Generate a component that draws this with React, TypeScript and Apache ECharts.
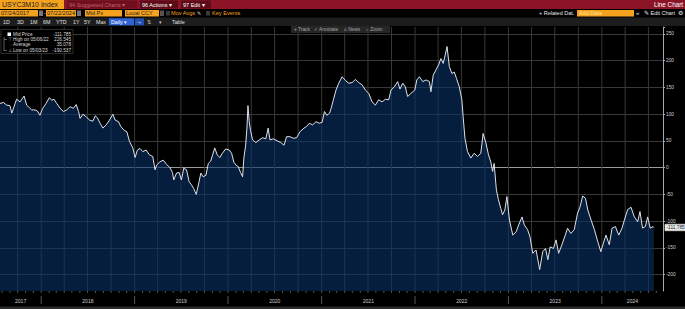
import React, { useEffect, useRef } from "react";
import * as echarts from "echarts";

// ---------- data ----------
const dates: string[] = [
  "2017-07-24","2017-08-06","2017-08-19","2017-09-01","2017-09-08","2017-09-21","2017-09-27","2017-10-10","2017-10-26","2017-11-05","2017-11-16","2017-11-25","2017-12-08","2017-12-17","2017-12-27",
  "2018-01-07","2018-01-20","2018-02-02","2018-02-11","2018-02-20","2018-03-03","2018-03-16","2018-03-29","2018-04-11","2018-04-24","2018-05-07","2018-05-18","2018-05-27","2018-06-02","2018-06-13","2018-06-26","2018-07-09","2018-07-22","2018-07-31","2018-08-09","2018-08-19","2018-08-30","2018-09-12","2018-09-25","2018-10-08","2018-10-17","2018-10-30","2018-11-08","2018-11-21","2018-12-02","2018-12-12","2018-12-25",
  "2019-01-03","2019-01-12","2019-01-22","2019-02-02","2019-02-15","2019-02-28","2019-03-13","2019-03-22","2019-03-28","2019-04-10","2019-04-23","2019-05-06","2019-05-19","2019-05-29","2019-06-03","2019-06-14","2019-06-24","2019-07-03","2019-07-12","2019-07-23","2019-08-02","2019-08-11","2019-08-20","2019-08-30","2019-09-10","2019-09-17","2019-09-26","2019-10-07","2019-10-16","2019-10-25","2019-11-02","2019-11-10","2019-11-20","2019-11-30","2019-12-10","2019-12-23",
  "2020-01-06","2020-01-15","2020-01-24","2020-02-01","2020-02-10","2020-02-19","2020-02-27","2020-03-03","2020-03-10","2020-03-15","2020-03-19","2020-03-24","2020-03-29","2020-04-06","2020-04-19","2020-05-02","2020-05-15","2020-05-28","2020-06-06","2020-06-13","2020-06-26","2020-07-12","2020-07-25","2020-08-07","2020-08-17","2020-08-30","2020-09-12","2020-09-25","2020-10-08","2020-10-24","2020-11-03","2020-11-14","2020-11-27","2020-12-10","2020-12-23",
  "2021-01-03","2021-01-12","2021-01-21","2021-02-01","2021-02-07","2021-02-16","2021-02-26","2021-03-09","2021-03-22","2021-04-04","2021-04-17","2021-04-30","2021-05-13","2021-05-26","2021-06-08","2021-06-21","2021-07-04","2021-07-17","2021-07-30","2021-08-12","2021-08-25","2021-09-07","2021-09-20","2021-09-29","2021-10-12","2021-10-25","2021-11-03","2021-11-14","2021-11-24","2021-12-03","2021-12-16","2021-12-31",
  "2022-01-08","2022-01-18","2022-01-31","2022-02-13","2022-02-26","2022-03-04","2022-03-13","2022-03-24","2022-04-03","2022-04-12","2022-04-21","2022-04-29","2022-05-06","2022-05-15","2022-05-25","2022-06-03","2022-06-12","2022-06-23","2022-07-03","2022-07-08","2022-07-15","2022-07-25","2022-08-07","2022-08-20","2022-09-02","2022-09-15","2022-09-24","2022-10-05","2022-10-15","2022-10-24","2022-10-31","2022-11-06","2022-11-15","2022-11-23","2022-12-02","2022-12-09","2022-12-18","2022-12-26",
  "2023-01-05","2023-01-18","2023-01-31","2023-02-10","2023-02-23","2023-03-04","2023-03-17","2023-03-26","2023-04-06","2023-04-19","2023-05-03","2023-05-15","2023-05-26","2023-06-04","2023-06-13","2023-06-26","2023-07-06","2023-07-16","2023-07-29","2023-08-11","2023-08-20","2023-09-02","2023-09-15","2023-09-28","2023-10-08","2023-10-18","2023-10-29","2023-11-07","2023-11-20","2023-12-03","2023-12-16","2023-12-28",
  "2024-01-07","2024-01-17","2024-01-30","2024-02-10","2024-02-23","2024-03-07","2024-03-20","2024-03-29","2024-04-11","2024-04-24","2024-05-07","2024-05-20","2024-05-29","2024-06-08","2024-06-19","2024-06-28","2024-07-08","2024-07-19","2024-07-22"
];

const values: number[] = [
  120,122,117,116,102,120,128,123,134,117,112,108,108,106,98,
  111,120,131,126,128,120,111,105,108,114,111,118,105,92,100,95,89,87,97,93,83,74,80,89,100,89,86,77,70,67,49,37,
  19,33,36,30,33,24,21,-4,5,11,14,6,0,-9,-23,-10,-9,-23,-1,-4,-26,-32,-39,-50,-26,-10,-17,-14,8,12,24,37,24,19,27,35,
  33,27,10,5,2,-9,-17,18,42,74,116,86,70,52,47,52,56,54,74,52,54,50,47,42,58,58,55,56,67,74,77,83,80,86,83,
  85,105,98,102,111,127,145,158,170,163,158,159,165,159,155,145,139,123,117,127,123,128,127,145,151,161,147,158,151,133,139,145,
  164,170,161,164,161,142,173,183,192,204,195,211,226.545,189,176,179,167,151,127,95,55,30,18,27,21,27,64,46,24,11,-7,8,-42,-60,-76,-88,-79,-54,
  -98,-126,-120,-107,-92,-107,-116,-129,-160,-154,-190.537,-157,-151,-172,-148,-151,-135,-160,-144,-126,-113,-123,-116,-85,-73,-53,-57,-79,-98,-116,-138,-157,
  -141,-126,-144,-113,-110,-126,-113,-98,-78,-74,-92,-101,-82,-113,-110,-92,-113,-110,-111.785
];

const years: number[] = [2017, 2018, 2019, 2020, 2021, 2022, 2023, 2024];
const axisStart = "2017-07-24";
const axisEnd = "2024-08-27";
const yMin = -230.5;
const yMax = 263;
const yStep = 50;

const tickerName = "USYC3M10 Index";
const startDateText = "07/24/2017";
const endDateText = "07/22/2024";
const legendLabels: string[] = ["Mid Price", "High on 05/06/22", "Average", "Low on 05/03/23"];
const legendValues: string[] = ["-111.785", "226.545", "35.078", "-190.537"];
const lastValue = -111.785;
const lastValueText = "-111.785";
const periodButtons: string[] = ["1D", "3D", "1M", "6M", "YTD", "1Y", "5Y", "Max"];

// ---------- helpers ----------
const ts = (s: string) => {
  const [y, m, d] = s.split("-").map(Number);
  return new Date(y, m - 1, d).getTime();
};
const FONT = '"Liberation Sans", Arial, sans-serif';
const GRID_COLOR = "#383838";

const rect = (x: number, y: number, w: number, h: number, fill: string, extra: any = {}) => ({
  type: "rect",
  shape: { x, y, width: w, height: h },
  style: { fill, ...extra },
  silent: true,
  z: 100,
});
const txt = (x: number, y: number, text: string, fill: string, size: number, align = "left", weight = "normal") => ({
  type: "text",
  x,
  y,
  style: {
    text,
    fill,
    font: `${weight} ${size}px ${FONT}`,
    align,
    verticalAlign: "middle",
    textAlign: align,
    textVerticalAlign: "middle",
  },
  silent: true,
  z: 101,
});
const ln = (x1: number, y1: number, x2: number, y2: number, stroke: string, w = 0.6) => ({
  type: "line",
  shape: { x1, y1, x2, y2 },
  style: { stroke, lineWidth: w },
  silent: true,
  z: 101,
});

export default function App() {
  const ref = useRef<HTMLDivElement>(null);

  useEffect(() => {
    if (!ref.current) return;
    const chart = echarts.init(ref.current, null, { renderer: "svg" });

    const tMin = ts(axisStart);
    const tMax = ts(axisEnd);

    const quarterTs: number[] = [];
    const monthTs: number[] = [];
    years.forEach((y) => {
      for (let m = 0; m < 12; m++) {
        const t = new Date(y, m, 1).getTime();
        if (t > tMin && t < tMax) {
          monthTs.push(t);
          if (m % 3 === 0) quarterTs.push(t);
        }
      }
    });
    const yearStarts = years.map((y) => new Date(y, 0, 1).getTime()).filter((t) => t > tMin && t < tMax);
    const yearMids = years.map((y) => {
      const a = Math.max(new Date(y, 0, 1).getTime(), tMin);
      const b = Math.min(new Date(y + 1, 0, 1).getTime(), tMax);
      return (a + b) / 2;
    });

    const lineData = dates.map((d, i) => [ts(d), values[i]]);

    const ORANGE = "#f5a31f";
    const elements: any[] = [
      // row 1 (red title bar)
      rect(0, 0, 685, 9, "#8b1526"),
      rect(0, 0, 64, 9, ORANGE),
      txt(2, 4.7, tickerName, "#1a1a1a", 7),
      rect(67, 0.5, 70, 8, "#6f0e1c"),
      txt(69, 4.7, "94 Suggested Charts \u25BE", "#c4606e", 5.5),
      rect(140, 0.5, 38, 8, "#5c0b17"),
      txt(142, 4.7, "96 Actions \u25BE", "#ffffff", 5.5),
      rect(181, 0.5, 30, 8, "#5c0b17"),
      txt(183, 4.7, "97 Edit \u25BE", "#ffffff", 5.5),
      txt(683, 4.7, "Line Chart", "#ffffff", 6.3, "right"),
      // row 2
      rect(0, 9, 685, 8.5, "#000000"),
      rect(0, 10, 38, 6.5, ORANGE),
      txt(1, 13.4, startDateText, "#1a1a1a", 5.6),
      rect(39, 10.5, 4, 5.5, "#777777"),
      txt(44, 13.3, "-", "#cccccc", 5.5),
      rect(46, 10, 30, 6.5, ORANGE),
      txt(47, 13.4, endDateText, "#1a1a1a", 5.6),
      rect(77, 10.5, 4, 5.5, "#777777"),
      rect(85, 10, 37, 6.5, ORANGE),
      txt(86, 13.4, "Mid Px", "#1a1a1a", 5.6),
      rect(125, 10, 34, 6.5, ORANGE),
      txt(126, 13.4, "Local CCY", "#1a1a1a", 5.6),
      rect(160, 10.5, 4, 5.5, "#555555"),
      rect(166, 11, 4, 4.5, "#3a3a3a"),
      txt(171, 13.4, "Mov Avgs", ORANGE, 5.6),
      txt(197, 13.4, "\u270E", "#dddddd", 5),
      rect(206, 11, 4, 4.5, "#3a3a3a"),
      txt(212, 13.4, "Key Events", ORANGE, 5.6),
      txt(539, 13.4, "+ Related Dat.", "#e8e8e8", 5.5),
      rect(577, 10, 57, 6.5, ORANGE),
      txt(579, 13.4, "Add Data", "#ffe39a", 5.5),
      txt(636, 13.4, "\u00AB", "#e8e8e8", 6),
      txt(644, 13.4, "\u270E Edit Chart", "#e8e8e8", 5.5),
      txt(678, 13.4, "\u2699", "#e8e8e8", 6),
      // row 3
      rect(0, 17.5, 685, 8.5, "#1d1d1d"),
      ...periodButtons.map((b, i) => txt([3, 17, 30, 43, 56, 73, 84, 96][i], 21.9, b, "#e0e0e0", 5.3)),
      rect(109, 18.3, 25, 7, "#2f63d6"),
      txt(111, 21.9, "Daily \u25BE", "#ffffff", 5.3),
      rect(135, 18.3, 9, 7, "#2350b0"),
      txt(136.5, 21.9, "\u2933", "#ffffff", 5),
      txt(147, 21.9, "\u21C5", "#cccccc", 5),
      txt(159, 21.9, "\u25BE", "#cccccc", 5),
      txt(172, 21.9, "Table", "#e0e0e0", 5.3),
      // chart toolbar
      rect(291, 26, 99, 7, "#262626"),
      txt(294, 29.5, "+ Track", "#a8a8a8", 4.8),
      txt(314, 29.5, "\u2713 Annotate", "#a8a8a8", 4.8),
      txt(344, 29.5, "\u2261 News", "#a8a8a8", 4.8),
      txt(366, 29.5, "\u2315 Zoom", "#a8a8a8", 4.8),
      // legend box
      rect(1, 29.5, 72, 24, "#000000", { stroke: "#4a4a4a", lineWidth: 0.6 }),
      rect(7.5, 32.5, 3.5, 3.5, "#ffffff"),
      ln(4, 37, 4, 51, "#9a9a9a"),
      ln(4, 39.5, 7, 39.5, "#9a9a9a"),
      ln(4, 50.5, 7, 50.5, "#9a9a9a"),
      txt(8, 39.5, "\u22A4", "#bbbbbb", 4.5),
      txt(8, 44.7, "\u2192", "#bbbbbb", 4.5),
      txt(8, 50, "\u22A5", "#bbbbbb", 4.5),
      ...legendLabels.map((l, i) => txt(13, [34.3, 39.4, 44.7, 50][i], l, "#d8d8d8", 4.7)),
      ...legendValues.map((v, i) => txt(71, [34.3, 39.4, 44.7, 50][i], v, "#d8d8d8", 4.7, "right")),
      // bottom strip
      rect(0, 306.5, 685, 2.5, "#2a2a2a"),
    ];

    const option: any = {
      animation: false,
      backgroundColor: "#000000",
      grid: { left: 0, right: 22, top: 27, bottom: 18, containLabel: false, outerBoundsMode: "none" },
      xAxis: {
        type: "time",
        min: tMin,
        max: tMax,
        axisLine: { show: true, lineStyle: { color: "#9a9a9a", width: 1 } },
        axisTick: { show: false },
        axisLabel: { show: false },
        splitLine: { show: false },
      },
      yAxis: {
        type: "value",
        position: "right",
        min: yMin,
        max: yMax,
        splitNumber: 10,
        axisLine: { show: true, lineStyle: { color: "#a8a8a8", width: 1 } },
        axisTick: { show: true, length: 2, lineStyle: { color: "#a8a8a8" } },
        axisLabel: {
          show: true,
          fontSize: 4.8,
          fontFamily: FONT,
          color: "#cfcfcf",
          margin: 3,
          showMinLabel: false,
          formatter: (v: number) => (Math.abs(v % yStep) < 1e-6 ? String(v) : ""),
        },
        splitLine: { show: true, showMinLine: false, showMaxLine: false, lineStyle: { color: GRID_COLOR, width: 1 } },
      },
      graphic: { elements },
      series: [
        {
          type: "custom",
          name: "vgrid",
          z: 1,
          silent: true,
          clip: false,
          encode: { x: 0, y: 1 },
          data: quarterTs.map((t) => [t, 0]),
          renderItem: (_p: any, api: any) => {
            const a = api.coord([api.value(0), yMax]);
            const b = api.coord([api.value(0), yMin]);
            return { type: "line", shape: { x1: a[0], y1: a[1], x2: b[0], y2: b[1] }, style: { stroke: GRID_COLOR, lineWidth: 1 } };
          },
        },
        {
          type: "line",
          name: "Mid Price",
          z: 2,
          data: lineData,
          showSymbol: false,
          symbol: "none",
          lineStyle: { color: "#dde2ea", width: 1 },
          areaStyle: { color: "rgb(10,50,103)", opacity: 0.6, origin: "start" },
          markPoint: {
            silent: true,
            symbol: "rect",
            symbolSize: 0,
            data: [
              {
                coord: [tMax, lastValue],
                label: {
                  show: true,
                  position: "right",
                  distance: 2,
                  formatter: lastValueText,
                  fontSize: 4.8,
                  fontFamily: FONT,
                  color: "#222222",
                  backgroundColor: "#e9e9e9",
                  borderColor: "#888888",
                  borderWidth: 0.5,
                  padding: [1, 1.5, 0.5, 1.5],
                },
              },
            ],
          },
        },
        {
          type: "custom",
          name: "monthTicks",
          z: 3,
          silent: true,
          clip: false,
          encode: { x: 0, y: 1 },
          data: monthTs.map((t) => [t, yMin]),
          renderItem: (_p: any, api: any) => {
            const a = api.coord([api.value(0), yMin]);
            return { type: "line", shape: { x1: a[0], y1: a[1], x2: a[0], y2: a[1] + 1.8 }, style: { stroke: "#9a9a9a", lineWidth: 0.6 } };
          },
        },
        {
          type: "custom",
          name: "yearDividers",
          z: 3,
          silent: true,
          clip: false,
          encode: { x: 0, y: 1 },
          data: yearStarts.map((t) => [t, yMin]),
          renderItem: (_p: any, api: any) => {
            const a = api.coord([api.value(0), yMin]);
            return { type: "line", shape: { x1: a[0], y1: a[1] + 5, x2: a[0], y2: a[1] + 13 }, style: { stroke: "#7a7a7a", lineWidth: 0.7 } };
          },
        },
        {
          type: "custom",
          name: "yearLabels",
          z: 3,
          silent: true,
          clip: false,
          encode: { x: 0, y: 1 },
          data: yearMids.map((t) => [t, yMin]),
          renderItem: (p: any, api: any) => {
            const a = api.coord([api.value(0), yMin]);
            return {
              type: "text",
              x: a[0],
              y: a[1] + 9.5,
              style: {
                text: String(years[p.dataIndex]),
                fill: "#cfcfcf",
                font: `5px ${FONT}`,
                align: "center",
                verticalAlign: "middle",
                textAlign: "center",
                textVerticalAlign: "middle",
              },
            };
          },
        },
      ],
    };

    chart.setOption(option);
    return () => chart.dispose();
  }, []);

  return (
    <div
      ref={ref}
      style={{ position: "fixed", left: 0, top: 0, width: 685, height: 309, background: "#000" }}
    />
  );
}
